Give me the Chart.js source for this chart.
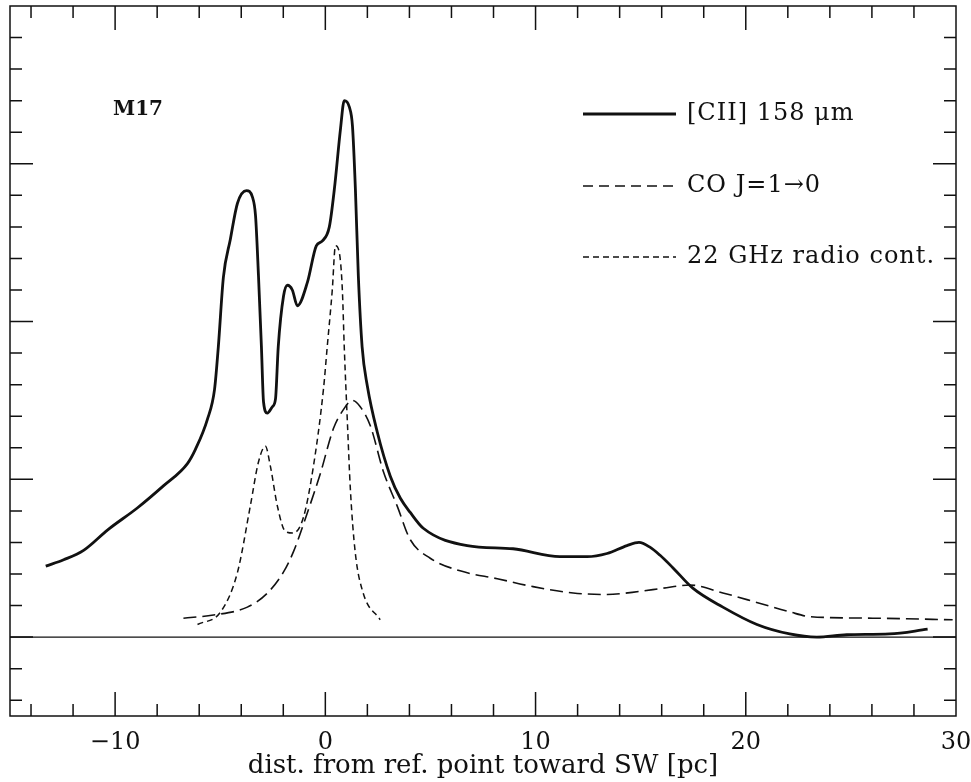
<!DOCTYPE html>
<html>
<head>
<meta charset="utf-8">
<script src="https://cdn.jsdelivr.net/npm/chart.js@4.4.0/dist/chart.umd.min.js"></script>
<style>
  html, body { margin: 0; padding: 0; background: #fff; }
  #wrap { width: 971px; height: 782px; }
</style>
</head>
<body>
<div id="wrap"><canvas id="m17" width="971" height="782"></canvas></div>
<script>
// [CII] 158 um, distance (pc) and intensity (arb. units)
const ciiX = [-13.30, -12.45, -11.50, -10.35, -8.93, -7.69, -6.56, -6.18, -5.61, -5.27, -5.09, -4.85, -4.52, -4.18, -3.75, -3.47, -3.32, -3.18, -3.04, -2.94, -2.76, -2.52, -2.37, -2.24, -1.99, -1.80, -1.57, -1.33, -0.85, -0.43, -0.15, 0.19, 0.43, 0.72, 0.90, 1.14, 1.29, 1.43, 1.57, 1.75, 2.00, 2.47, 3.09, 3.57, 4.04, 4.66, 6.75, 8.93, 11.16, 12.45, 13.40, 14.35, 14.92, 15.44, 15.91, 16.53, 17.48, 18.91, 20.53, 22.09, 23.38, 24.80, 26.84, 28.65]
const ciiY = [0.45, 0.49, 0.55, 0.68, 0.82, 0.96, 1.10, 1.19, 1.38, 1.57, 1.84, 2.28, 2.52, 2.75, 2.83, 2.79, 2.67, 2.29, 1.84, 1.49, 1.42, 1.46, 1.51, 1.84, 2.16, 2.23, 2.20, 2.10, 2.25, 2.48, 2.51, 2.60, 2.84, 3.22, 3.40, 3.36, 3.24, 2.84, 2.29, 1.84, 1.59, 1.30, 1.02, 0.88, 0.79, 0.69, 0.58, 0.56, 0.51, 0.51, 0.53, 0.58, 0.60, 0.57, 0.52, 0.44, 0.31, 0.19, 0.08, 0.02, 0.00, 0.015, 0.02, 0.05]

// CO J=1-0
const coX = [-6.75, -5.32, -3.71, -2.75, -2.00, -1.52, -0.85, -0.23, 0.38, 0.85, 1.28, 1.66, 2.14, 2.76, 3.42, 4.03, 4.99, 6.41, 8.18, 9.88, 11.79, 13.40, 14.97, 16.06, 17.34, 18.91, 20.52, 22.09, 23.05, 26.04, 29.84]
const coY = [0.12, 0.14, 0.19, 0.28, 0.41, 0.54, 0.79, 1.04, 1.32, 1.44, 1.50, 1.46, 1.34, 1.05, 0.83, 0.62, 0.50, 0.42, 0.37, 0.32, 0.28, 0.27, 0.29, 0.31, 0.33, 0.28, 0.22, 0.16, 0.13, 0.12, 0.11]

// 22 GHz radio continuum
const radioX = [-6.08, -4.98, -4.18, -3.57, -3.18, -2.85, -2.61, -2.28, -1.90, -1.52, -1.04, -0.57, -0.09, 0.09, 0.33, 0.48, 0.66, 0.81, 0.90, 1.05, 1.19, 1.42, 1.80, 2.61]
const radioY = [0.08, 0.16, 0.41, 0.83, 1.11, 1.21, 1.08, 0.83, 0.67, 0.66, 0.76, 1.08, 1.57, 1.84, 2.20, 2.48, 2.44, 2.20, 1.84, 1.36, 0.94, 0.54, 0.28, 0.11]

const seriesLabels = ['[CII] 158 \u03bcm', 'CO J=1\u21920', '22 GHz radio cont.']
const xLabels = [-10, 0, 10, 20, 30]

const ink = '#111'
const serif = '"DejaVu Serif", "Liberation Serif", serif'

function pts(xs, ys) {
  return xs.map((x, i) => ({ x: x, y: ys[i] }))
}

// frame, zero line, inward ticks, legend and source name
const paperFrame = {
  id: 'paperFrame',
  beforeDatasetsDraw(chart) {
    const { ctx, chartArea: a, scales: { y } } = chart
    const y0 = y.getPixelForValue(0)
    ctx.save()
    ctx.strokeStyle = ink
    ctx.lineWidth = 1.3
    ctx.beginPath()
    ctx.moveTo(a.left, y0)
    ctx.lineTo(a.right, y0)
    ctx.stroke()
    ctx.restore()
  },
  afterDraw(chart) {
    const { ctx, chartArea: a, scales: { x, y } } = chart
    ctx.save()
    ctx.strokeStyle = ink
    ctx.lineWidth = 1.5
    ctx.strokeRect(a.left, a.top, a.right - a.left, a.bottom - a.top)

    ctx.beginPath()
    // x ticks every 2 pc, long at every 10
    for (let v = -14; v < 30; v += 2) {
      const px = x.getPixelForValue(v)
      const len = v % 10 === 0 ? 24 : 12
      ctx.moveTo(px, a.bottom); ctx.lineTo(px, a.bottom - len)
      ctx.moveTo(px, a.top); ctx.lineTo(px, a.top + len)
    }
    // y ticks every 0.2, long at every unit
    for (let i = -2; i < 20; i++) {
      const py = y.getPixelForValue(i * 0.2)
      const len = i % 5 === 0 ? 23 : 12
      ctx.moveTo(a.left, py); ctx.lineTo(a.left + len, py)
      ctx.moveTo(a.right, py); ctx.lineTo(a.right - len, py)
    }
    ctx.stroke()

    // legend
    const rows = [114, 186, 257]
    chart.data.datasets.forEach((ds, i) => {
      ctx.save()
      ctx.lineWidth = ds.borderWidth
      ctx.setLineDash(ds.legendDash)
      ctx.beginPath()
      ctx.moveTo(583, rows[i])
      ctx.lineTo(676, rows[i])
      ctx.stroke()
      ctx.restore()
      ctx.fillStyle = ink
      ctx.font = '24px ' + serif
      ctx.letterSpacing = '1px'
      ctx.textBaseline = 'middle'
      ctx.fillText(ds.label, 687, rows[i])
    })

    ctx.letterSpacing = '0px'
    ctx.font = 'bold 20px ' + serif
    ctx.textBaseline = 'middle'
    ctx.fillText('M17', 113, 110)
    ctx.restore()
  }
}

new Chart(document.getElementById('m17'), {
  type: 'line',
  data: {
    datasets: [
      {
        label: seriesLabels[0],
        data: pts(ciiX, ciiY),
        borderColor: ink,
        borderWidth: 2.8,
        legendDash: []
      },
      {
        label: seriesLabels[1],
        data: pts(coX, coY),
        borderColor: ink,
        borderWidth: 1.6,
        borderDash: [13, 6],
        legendDash: [10, 6]
      },
      {
        label: seriesLabels[2],
        data: pts(radioX, radioY),
        borderColor: ink,
        borderWidth: 1.5,
        borderDash: [6, 4],
        legendDash: [6, 4]
      }
    ]
  },
  options: {
    responsive: false,
    animation: false,
    layout: { padding: { left: 10, right: 15, top: 6, bottom: 0 } },
    elements: {
      point: { radius: 0 },
      line: { cubicInterpolationMode: 'monotone', fill: false }
    },
    plugins: {
      legend: { display: false },
      tooltip: { enabled: false }
    },
    scales: {
      x: {
        type: 'linear',
        min: -15,
        max: 30,
        grid: { display: false, drawTicks: false },
        border: { display: false },
        ticks: {
          stepSize: 10,
          padding: 12,
          color: ink,
          font: { family: serif, size: 24 },
          callback: v => xLabels.includes(v) ? (v < 0 ? '\u2212' + Math.abs(v) : String(v)) : ''
        },
        title: {
          display: true,
          text: 'dist. from ref. point toward SW [pc]',
          color: ink,
          font: { family: serif, size: 26 },
          padding: { top: 0, bottom: 0 }
        },
        afterFit: s => {
          s.height = 66
          // let the end labels overhang the frame like in the paper
          s.paddingLeft = 0
          s.paddingRight = 0
        }
      },
      y: {
        display: false,
        min: -0.5,
        max: 4
      }
    }
  },
  plugins: [paperFrame]
})
</script>
</body>
</html>
